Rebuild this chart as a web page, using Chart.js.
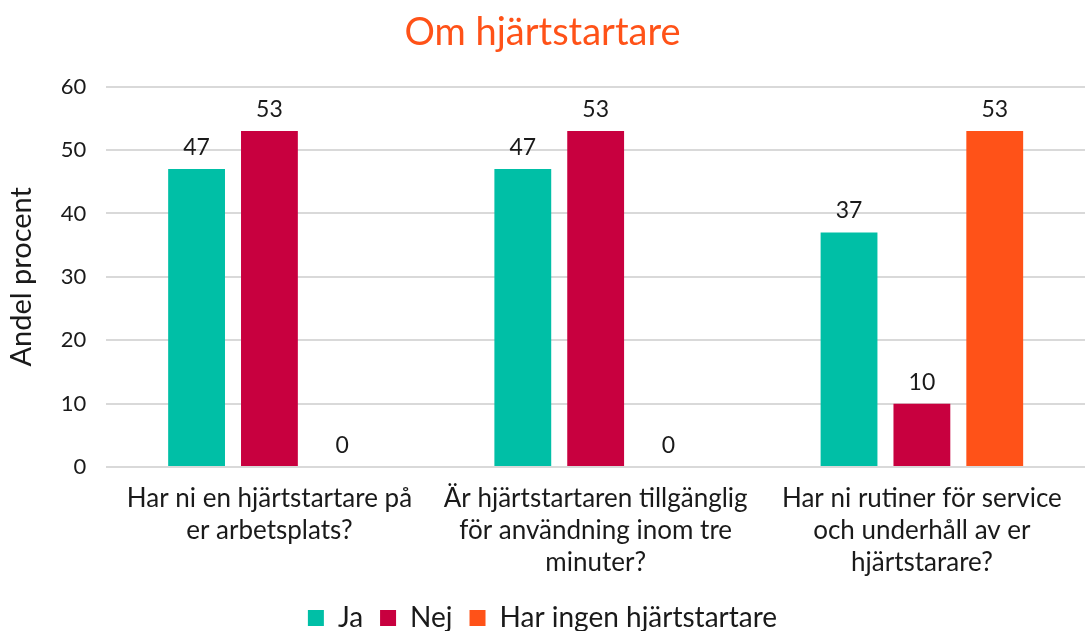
<!DOCTYPE html>
<html>
<head>
<meta charset="utf-8">
<script src="https://cdn.jsdelivr.net/npm/chart.js@4"></script>
<style>
  html, body { margin: 0; padding: 0; background: #fff; }
  #wrap { width: 1085px; height: 631px; }
</style>
</head>
<body>
<div id="wrap"><canvas id="chart"></canvas></div>
<script>
// Categories and series (percent)
const categories = [
  ["Har ni en hjärtstartare på", "er arbetsplats?"],
  ["Är hjärtstartaren tillgänglig", "för användning inom tre", "minuter?"],
  ["Har ni rutiner för service", "och underhåll av er", "hjärtstarare?"]
];
const jaValues = [47, 47, 37];
const nejValues = [53, 53, 10];
const ingenValues = [0, 0, 53];
const seriesNames = ["Ja", "Nej", "Har ingen hjärtstartare"];

const FONT = "Lato, 'Open Sans', sans-serif";
const TEXT = "#1a1a1a";

// draw value labels above bars
const valueLabels = {
  id: "valueLabels",
  afterDatasetsDraw(chart) {
    const c = chart.ctx;
    c.save();
    c.font = "23px " + FONT;
    c.fillStyle = TEXT;
    c.textAlign = "center";
    c.textBaseline = "bottom";
    chart.data.datasets.forEach((ds, i) => {
      chart.getDatasetMeta(i).data.forEach((bar, j) => {
        c.fillText(ds.data[j], bar.x, bar.y - 10);
      });
    });
    c.restore();
  }
};

new Chart(document.getElementById("chart"), {
  type: "bar",
  data: {
    labels: categories,
    datasets: [
      { label: seriesNames[0], data: jaValues, backgroundColor: "#00BFA6" },
      { label: seriesNames[1], data: nejValues, backgroundColor: "#C8003F" },
      { label: seriesNames[2], data: ingenValues, backgroundColor: "#FF5218" }
    ]
  },
  options: {
    responsive: true,
    maintainAspectRatio: false,
    animation: false,
    layout: { padding: { left: 0, right: 0, top: 4, bottom: -11 } },
    datasets: { bar: { categoryPercentage: 0.67, barPercentage: 0.78 } },
    plugins: {
      title: {
        display: true,
        text: "Om hjärtstartare",
        color: "#FF5218",
        font: { family: FONT, size: 38, weight: "normal" },
        padding: { top: 6, bottom: 31 }
      },
      legend: {
        position: "bottom",
        labels: {
          color: TEXT,
          font: { family: FONT, size: 28 },
          boxWidth: 16,
          boxHeight: 16,
          padding: 17
        }
      },
      tooltip: { enabled: false }
    },
    scales: {
      x: {
        grid: { display: false },
        border: { display: false },
        ticks: { color: TEXT, font: { family: FONT, size: 26, lineHeight: 1.23 }, maxRotation: 0, padding: 8 }
      },
      y: {
        min: 0,
        max: 60,
        ticks: { stepSize: 10, color: TEXT, font: { family: FONT, size: 22 }, padding: 20 },
        grid: { color: "#d9d9d9", lineWidth: 2, drawTicks: false },
        border: { display: false },
        title: {
          display: true,
          text: "Andel procent",
          color: TEXT,
          font: { family: FONT, size: 29 },
          padding: { bottom: 2 }
        }
      }
    }
  },
  plugins: [valueLabels]
});
</script>
</body>
</html>
